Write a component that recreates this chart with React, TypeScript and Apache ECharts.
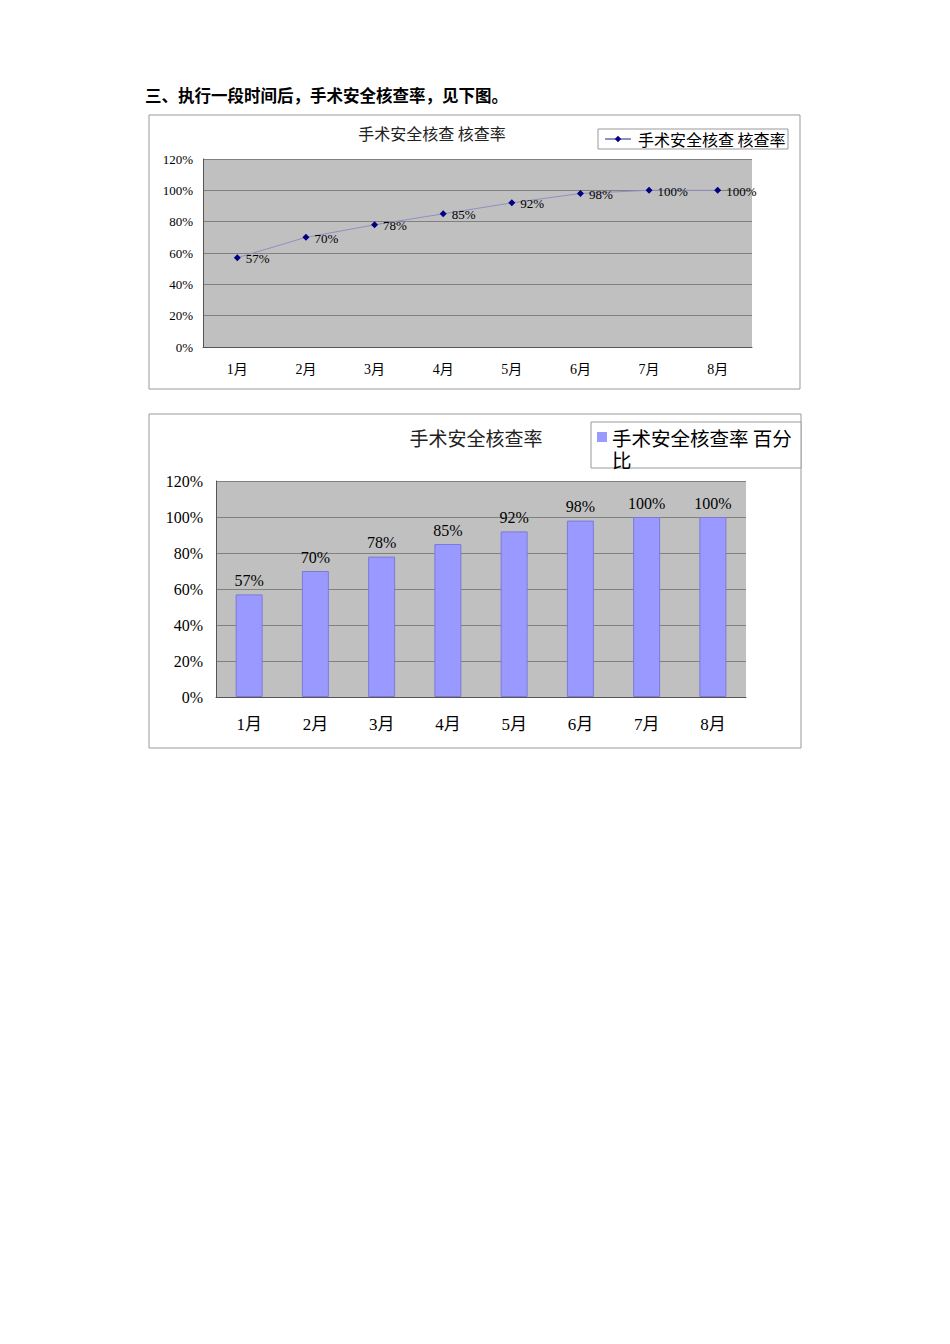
import { useEffect, useRef } from 'react';
import * as echarts from 'echarts';

// chart data
const months = ['1月', '2月', '3月', '4月', '5月', '6月', '7月', '8月'];
const checkRate = [57, 70, 78, 85, 92, 98, 100, 100];
const lineSeriesName = '手术安全核查 核查率';
const barSeriesName = '手术安全核查率 百分比';

const SERIF = "'Liberation Serif', 'Noto Sans CJK SC', serif";
const CJK = "'Noto Sans CJK SC', sans-serif";

// square at the top of a tall icon box, so it lines up with the first text line
const TOP_SQUARE_ICON = 'path://M0,0L10,0L10,10L0,10Z M9.9,31L10,31L10,32L9.9,32Z';

const App = () => {
    const chartRef = useRef<HTMLDivElement>(null);

    useEffect(() => {
        if (!chartRef.current) return;
        const chart = echarts.init(chartRef.current, null, { renderer: 'svg' });

        const pct = (v: number) => v + '%';

        chart.setOption({
            animation: false,
            grid: [
                { left: 203, top: 159, width: 549, height: 188, show: true, backgroundColor: '#c0c0c0', borderWidth: 0 },
                { left: 216, top: 481, width: 530, height: 216, show: true, backgroundColor: '#c0c0c0', borderWidth: 0 }
            ],
            xAxis: [
                {
                    gridIndex: 0,
                    type: 'category',
                    data: months,
                    axisLine: { lineStyle: { color: '#555', width: 1 } },
                    axisTick: { inside: true, length: 5, lineStyle: { color: '#555' } },
                    axisLabel: { margin: 15, fontSize: 14, color: '#000', fontFamily: SERIF }
                },
                {
                    gridIndex: 1,
                    type: 'category',
                    data: months,
                    axisLine: { lineStyle: { color: '#555', width: 1 } },
                    axisTick: { inside: true, length: 5, lineStyle: { color: '#555' } },
                    axisLabel: { margin: 19, fontSize: 17, color: '#000', fontFamily: SERIF }
                }
            ],
            yAxis: [
                {
                    gridIndex: 0,
                    type: 'value',
                    min: 0,
                    max: 120,
                    interval: 20,
                    axisLine: { show: true, lineStyle: { color: '#555' } },
                    axisTick: { show: false },
                    splitLine: { lineStyle: { color: '#808080', width: 1 } },
                    axisLabel: { margin: 10, fontSize: 13, color: '#000', fontFamily: SERIF, formatter: pct }
                },
                {
                    gridIndex: 1,
                    type: 'value',
                    min: 0,
                    max: 120,
                    interval: 20,
                    axisLine: { show: true, lineStyle: { color: '#555' } },
                    axisTick: { show: false },
                    splitLine: { lineStyle: { color: '#808080', width: 1 } },
                    axisLabel: { margin: 13, fontSize: 16, color: '#000', fontFamily: SERIF, formatter: pct }
                }
            ],
            legend: [
                {
                    data: [lineSeriesName],
                    left: 604,
                    top: 131,
                    padding: 0,
                    itemWidth: 26,
                    itemHeight: 8,
                    textStyle: { fontSize: 16, color: '#000', fontFamily: CJK, padding: [0, 0, 0, 2] }
                },
                {
                    data: [{ name: barSeriesName, icon: TOP_SQUARE_ICON }],
                    left: 597,
                    top: 426,
                    padding: 0,
                    itemWidth: 10,
                    itemHeight: 32,
                    itemStyle: { borderWidth: 0 },
                    textStyle: {
                        fontSize: 19.5,
                        lineHeight: 22,
                        color: '#000',
                        fontFamily: CJK,
                        width: 190,
                        overflow: 'break'
                    }
                }
            ],
            series: [
                {
                    name: lineSeriesName,
                    type: 'line',
                    xAxisIndex: 0,
                    yAxisIndex: 0,
                    data: checkRate,
                    symbol: 'diamond',
                    symbolSize: 7,
                    lineStyle: { color: '#8f8fc0', width: 1 },
                    itemStyle: { color: '#000080' },
                    label: {
                        show: true,
                        position: 'right',
                        distance: 5,
                        offset: [0, 1],
                        fontSize: 13,
                        color: '#000',
                        fontFamily: SERIF,
                        formatter: (p: any) => p.value + '%'
                    }
                },
                {
                    name: barSeriesName,
                    type: 'bar',
                    xAxisIndex: 1,
                    yAxisIndex: 1,
                    data: checkRate,
                    barWidth: 27,
                    itemStyle: { color: '#9999ff', borderColor: '#7b7bd6', borderWidth: 1 },
                    label: {
                        show: true,
                        position: 'top',
                        distance: 6,
                        fontSize: 16,
                        color: '#000',
                        fontFamily: SERIF,
                        formatter: (p: any) => p.value + '%'
                    }
                }
            ],
            graphic: [
                {
                    type: 'text',
                    left: 145,
                    top: 87,
                    style: { text: '三、执行一段时间后，手术安全核查率，见下图。', fontSize: 16.5, fontWeight: 'bold', fill: '#000', fontFamily: CJK }
                },
                // chart frames
                { type: 'rect', z: -10, shape: { x: 149, y: 115, width: 651, height: 274 }, style: { fill: '#fff', stroke: '#999', lineWidth: 1 } },
                { type: 'rect', z: -10, shape: { x: 149, y: 414, width: 652, height: 334 }, style: { fill: '#fff', stroke: '#999', lineWidth: 1 } },
                // legend boxes
                { type: 'rect', z: -5, shape: { x: 598, y: 129, width: 190, height: 20 }, style: { fill: '#fff', stroke: '#999', lineWidth: 1 } },
                { type: 'rect', z: -5, shape: { x: 591, y: 422, width: 210, height: 46 }, style: { fill: '#fff', stroke: '#999', lineWidth: 1 } },
                // titles
                {
                    type: 'text',
                    x: 432,
                    y: 133,
                    style: { text: '手术安全核查 核查率', fontSize: 16, fill: '#222', fontFamily: CJK, align: 'center', verticalAlign: 'middle' }
                },
                {
                    type: 'text',
                    x: 476,
                    y: 437,
                    style: { text: '手术安全核查率', fontSize: 19, fill: '#222', fontFamily: CJK, align: 'center', verticalAlign: 'middle' }
                }
            ]
        });

        return () => {
            chart.dispose();
        };
    }, []);

    return (
        <div ref={chartRef} style={{ position: 'absolute', left: 0, top: 0, width: '950px', height: '1344px', background: '#fff' }} />
    );
};

export default App;
